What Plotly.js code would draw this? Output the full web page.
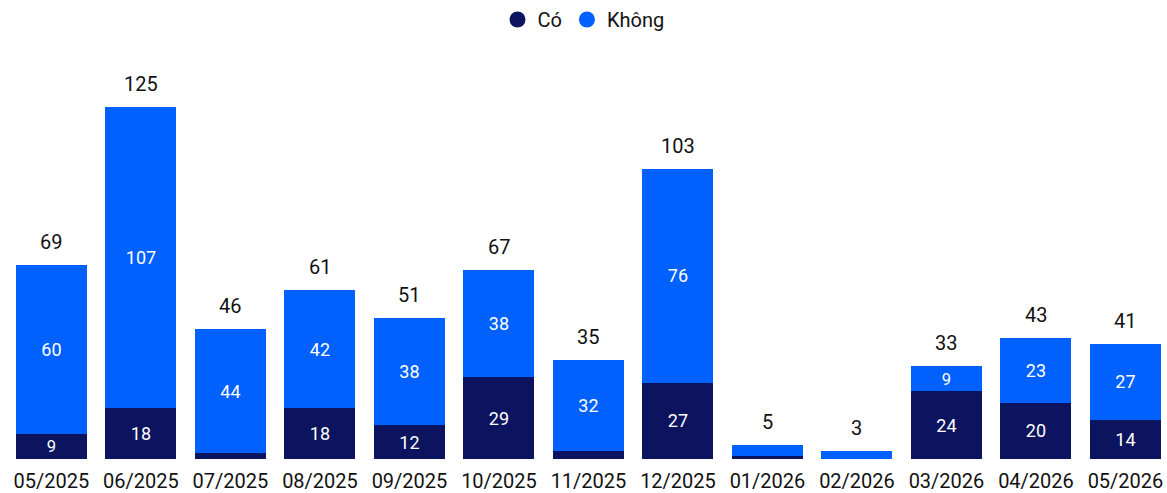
<!DOCTYPE html>
<html>
<head>
<meta charset="utf-8">
<script src="https://cdn.plot.ly/plotly-3.0.1.min.js"></script>
<style>html,body{margin:0;padding:0;background:#fff}#chart{width:1167px;height:493px}</style>
</head>
<body>
<div id="chart"></div>
<script>
const months = ["05/2025","06/2025","07/2025","08/2025","09/2025","10/2025","11/2025","12/2025","01/2026","02/2026","03/2026","04/2026","05/2026"];
const co = [9,18,2,18,12,29,3,27,1,0,24,20,14];
const khong = [60,107,44,42,38,38,32,76,4,3,9,23,27];
const totals = [69,125,46,61,51,67,35,103,5,3,33,43,41];
const seriesNames = ["Có","Không"];
const colors = ["#0c1460","#0061ff"];

const labelOf = v => v >= 5 ? String(v) : "";
const idx = months.map((m,i)=>i);

const traces = [
  {type:"bar", x: idx, y: co, name: seriesNames[0], marker:{color:colors[0]}, showlegend:false,
   text: co.map(labelOf), textposition:"inside", insidetextanchor:"middle", textangle:0,
   textfont:{color:"#ffffff", size:18, family:"Roboto"}, hoverinfo:"skip"},
  {type:"bar", x: idx, y: khong, name: seriesNames[1], marker:{color:colors[1]}, showlegend:false,
   text: khong.map(labelOf), textposition:"inside", insidetextanchor:"middle", textangle:0,
   textfont:{color:"#ffffff", size:18, family:"Roboto"}, hoverinfo:"skip"},
  {type:"scatter", mode:"markers", x:[null], y:[null], name: seriesNames[0], marker:{color:colors[0], size:21, symbol:"circle"}},
  {type:"scatter", mode:"markers", x:[null], y:[null], name: seriesNames[1], marker:{color:colors[1], size:21, symbol:"circle"}}
];

const annotations = idx.map(i => ({
  x: i, y: co[i] + khong[i], text: String(totals[i]), showarrow:false,
  yanchor:"bottom", yshift:9, font:{size:20, color:"#111", family:"Roboto"}
}));

const layout = {
  width:1167, height:493,
  margin:{l:0, r:0, t:40, b:34},
  barmode:"stack", bargap:0.207,
  paper_bgcolor:"#fff", plot_bgcolor:"#fff",
  font:{family:"Roboto", size:18, color:"#111"},
  showlegend:true,
  legend:{orientation:"h", x:0.5, xanchor:"center", y:1, yref:"container", yanchor:"top", traceorder:"normal",
          font:{size:20, family:"Roboto", color:"#111"}, itemwidth:20, tracegroupgap:0},
  xaxis:{range:[-0.575, 12.464], tickmode:"array", tickvals: idx, ticktext: months, ticklabelstandoff:8,
         showgrid:false, zeroline:false, showline:false, ticks:"", tickfont:{size:20, family:"Roboto", color:"#111"}},
  yaxis:{range:[0,148.8], visible:false, showgrid:false, zeroline:false},
  annotations: annotations
};
Plotly.newPlot("chart", traces, layout, {displayModeBar:false, staticPlot:true});
</script>
</body>
</html>
